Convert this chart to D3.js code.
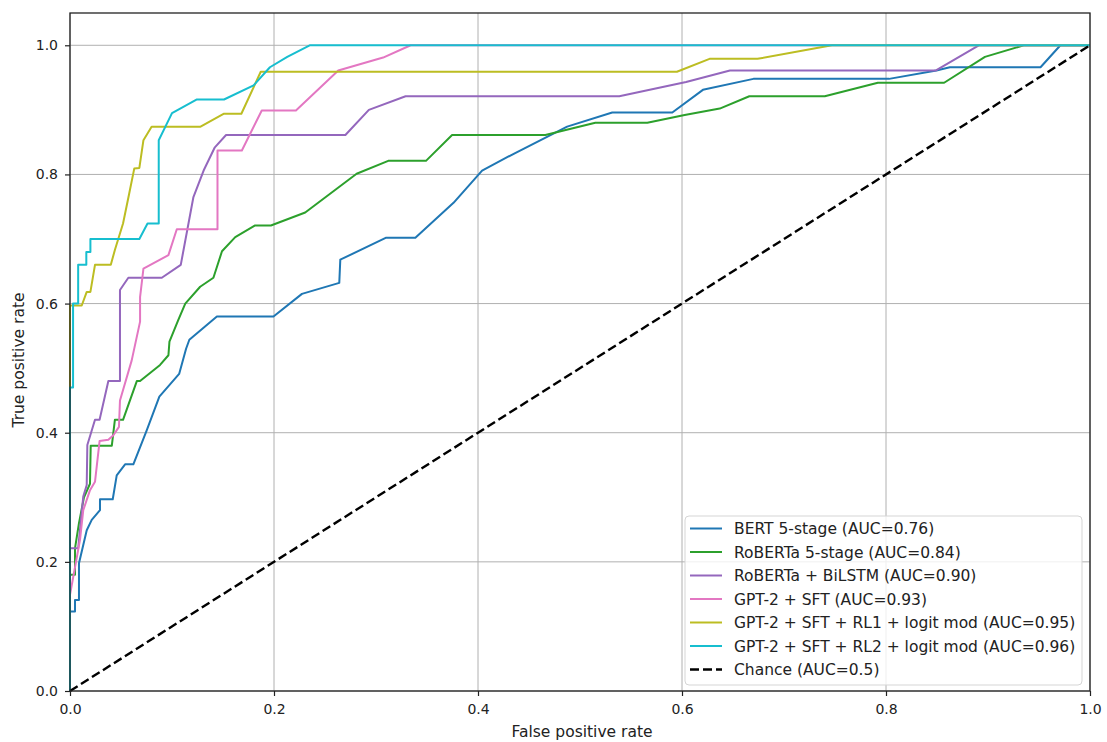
<!DOCTYPE html>
<html>
<head>
<meta charset="utf-8">
<script src="https://cdn.jsdelivr.net/npm/d3@7"></script>
<style>
  body { margin: 0; background: #fff; }
  svg { font-family: "DejaVu Sans", sans-serif; }
</style>
</head>
<body>
<div id="graph"></div>
<script>
// ROC curves: [fpr, tpr]
let bert = [[0,0],[0,0.123],[0.0049,0.123],[0.0049,0.141],[0.0088,0.141],[0.0088,0.198],[0.0164,0.249],[0.0213,0.265],[0.0294,0.28],[0.0294,0.297],[0.0419,0.297],[0.0458,0.334],[0.054,0.351],[0.0621,0.351],[0.0753,0.404],[0.0876,0.456],[0.107,0.491],[0.1138,0.530],[0.117,0.544],[0.144,0.580],[0.1995,0.580],[0.2274,0.615],[0.264,0.632],[0.265,0.668],[0.31,0.702],[0.3386,0.702],[0.376,0.756],[0.404,0.806],[0.435,0.832],[0.4874,0.874],[0.5316,0.896],[0.5905,0.896],[0.6205,0.931],[0.67,0.948],[0.803,0.948],[0.8495,0.961],[0.8626,0.966],[0.9515,0.966],[0.971,1.0],[1,1]];

let roberta = [[0,0],[0,0.18],[0.0049,0.18],[0.0049,0.221],[0.0088,0.26],[0.0137,0.30],[0.0196,0.321],[0.0203,0.38],[0.041,0.38],[0.044,0.42],[0.052,0.42],[0.0655,0.48],[0.0687,0.48],[0.0883,0.505],[0.0965,0.52],[0.0975,0.541],[0.106,0.574],[0.113,0.60],[0.1276,0.626],[0.1406,0.640],[0.149,0.681],[0.162,0.703],[0.1815,0.721],[0.197,0.721],[0.2306,0.741],[0.281,0.801],[0.312,0.821],[0.349,0.821],[0.3746,0.861],[0.466,0.861],[0.515,0.880],[0.566,0.880],[0.6026,0.892],[0.637,0.902],[0.666,0.921],[0.74,0.921],[0.792,0.942],[0.857,0.942],[0.897,0.982],[0.935,1.0],[1,1]];

let bilstm = [[0,0],[0,0.221],[0.008,0.221],[0.013,0.301],[0.0164,0.319],[0.017,0.381],[0.0245,0.42],[0.029,0.42],[0.0376,0.48],[0.049,0.48],[0.049,0.621],[0.0572,0.640],[0.090,0.640],[0.1086,0.66],[0.121,0.765],[0.131,0.806],[0.142,0.842],[0.153,0.861],[0.270,0.861],[0.293,0.90],[0.329,0.921],[0.5385,0.921],[0.604,0.943],[0.647,0.961],[0.849,0.961],[0.891,1.0],[1,1]];

let gptSft = [[0,0],[0,0.149],[0.0098,0.234],[0.013,0.28],[0.0196,0.311],[0.0245,0.324],[0.029,0.387],[0.0376,0.389],[0.0425,0.396],[0.048,0.409],[0.049,0.45],[0.0605,0.512],[0.0687,0.572],[0.0687,0.61],[0.072,0.654],[0.0965,0.675],[0.1047,0.715],[0.1446,0.715],[0.1446,0.837],[0.1685,0.837],[0.188,0.899],[0.2215,0.899],[0.263,0.961],[0.307,0.981],[0.334,1.0],[1,1]];

let gptRl1 = [[0,0],[0,0.597],[0.0115,0.597],[0.0164,0.618],[0.020,0.618],[0.0245,0.66],[0.040,0.66],[0.044,0.683],[0.052,0.724],[0.058,0.77],[0.063,0.809],[0.068,0.81],[0.072,0.853],[0.080,0.874],[0.128,0.874],[0.151,0.894],[0.168,0.894],[0.187,0.959],[0.595,0.959],[0.627,0.979],[0.674,0.979],[0.747,1.0],[1,1]];

let gptRl2 = [[0,0],[0,0.47],[0.003,0.47],[0.003,0.6],[0.008,0.6],[0.008,0.66],[0.016,0.66],[0.016,0.68],[0.020,0.68],[0.020,0.70],[0.068,0.70],[0.076,0.724],[0.087,0.724],[0.087,0.853],[0.100,0.895],[0.124,0.916],[0.151,0.916],[0.180,0.938],[0.196,0.966],[0.213,0.982],[0.235,1.0],[1,1]];

let chance = [[0,0],[1,1]];

let nombres = ["BERT 5-stage (AUC=0.76)", "RoBERTa 5-stage (AUC=0.84)", "RoBERTa + BiLSTM (AUC=0.90)", "GPT-2 + SFT (AUC=0.93)", "GPT-2 + SFT + RL1 + logit mod (AUC=0.95)", "GPT-2 + SFT + RL2 + logit mod (AUC=0.96)", "Chance (AUC=0.5)"];
let colores = ["#1f77b4", "#2ca02c", "#9467bd", "#e377c2", "#bcbd22", "#17becf", "#000000"];
let curvas = [bert, roberta, bilstm, gptSft, gptRl1, gptRl2, chance];
let ticks = [0, 0.2, 0.4, 0.6, 0.8, 1.0];

var svgWidth = 1107;
var svgHeight = 742;

var margin = { top: 13, right: 17, bottom: 51, left: 70 };
var chartWidth = svgWidth - margin.left - margin.right;
var chartHeight = svgHeight - margin.top - margin.bottom;

var svg = d3.select("#graph")
  .append("svg")
  .attr("width", svgWidth)
  .attr("height", svgHeight);

var chartGroup = svg.append("g")
  .attr("transform", `translate(${margin.left}, ${margin.top})`);

var xScale = d3.scaleLinear().domain([0, 1]).range([0, chartWidth]);
var yScale = d3.scaleLinear().domain([0, 1.05]).range([chartHeight, 0]);

// grid
chartGroup.append("g")
  .selectAll("line.gx")
  .data(ticks)
  .enter().append("line")
  .attr("x1", d => xScale(d)).attr("x2", d => xScale(d))
  .attr("y1", 0).attr("y2", chartHeight)
  .attr("stroke", "#b0b0b0").attr("stroke-width", 1);

chartGroup.append("g")
  .selectAll("line.gy")
  .data(ticks)
  .enter().append("line")
  .attr("y1", d => yScale(d)).attr("y2", d => yScale(d))
  .attr("x1", 0).attr("x2", chartWidth)
  .attr("stroke", "#b0b0b0").attr("stroke-width", 1);

var drawLine = d3.line()
  .x(d => xScale(d[0]))
  .y(d => yScale(d[1]));

curvas.forEach(function (c, i) {
  chartGroup.append("path")
    .attr("d", drawLine(c))
    .attr("fill", "none")
    .attr("stroke", colores[i])
    .attr("stroke-width", i == 6 ? 2.4 : 2)
    .attr("stroke-dasharray", i == 6 ? "9,4" : null)
    .attr("stroke-linejoin", "round");
});

// frame
chartGroup.append("rect")
  .attr("x", 0).attr("y", 0)
  .attr("width", chartWidth).attr("height", chartHeight)
  .attr("fill", "none").attr("stroke", "#222").attr("stroke-width", 1.3);

var bottomAxis = d3.axisBottom(xScale).tickValues(ticks).tickFormat(d3.format(".1f")).tickSize(5).tickPadding(8);
var leftAxis = d3.axisLeft(yScale).tickValues(ticks).tickFormat(d3.format(".1f")).tickSize(5).tickPadding(7);

var gx = chartGroup.append("g")
  .attr("transform", `translate(0, ${chartHeight})`)
  .call(bottomAxis);
var gy = chartGroup.append("g").call(leftAxis);

[gx, gy].forEach(function (g) {
  g.select(".domain").remove();
  g.selectAll("line").attr("stroke", "#222").attr("stroke-width", 1.2);
  g.selectAll("text").attr("fill", "#222").style("font-size", "14px").style("font-family", "DejaVu Sans");
});

svg.append("text")
  .attr("x", margin.left + chartWidth / 2 + 2)
  .attr("y", 737)
  .attr("text-anchor", "middle")
  .style("font-size", "15.5px")
  .attr("fill", "#222")
  .text("False positive rate");

svg.append("text")
  .attr("transform", "translate(24, 360) rotate(-90)")
  .attr("text-anchor", "middle")
  .style("font-size", "15.5px")
  .attr("fill", "#222")
  .text("True positive rate");

// legend
var leg = svg.append("g").attr("transform", "translate(685, 516)");
leg.append("rect")
  .attr("width", 397).attr("height", 169)
  .attr("rx", 4)
  .attr("fill", "white").attr("fill-opacity", 0.8)
  .attr("stroke", "#d5d5d5");

nombres.forEach(function (n, i) {
  var yy = 12.5 + i * 23.5;
  leg.append("line")
    .attr("x1", 5).attr("x2", 37)
    .attr("y1", yy).attr("y2", yy)
    .attr("stroke", colores[i])
    .attr("stroke-width", i == 6 ? 2.4 : 2)
    .attr("stroke-dasharray", i == 6 ? "9,4" : null);
  leg.append("text")
    .attr("x", 49).attr("y", yy + 5.5)
    .style("font-size", "15.5px")
    .attr("fill", "#222")
    .text(n);
});
</script>
</body>
</html>
